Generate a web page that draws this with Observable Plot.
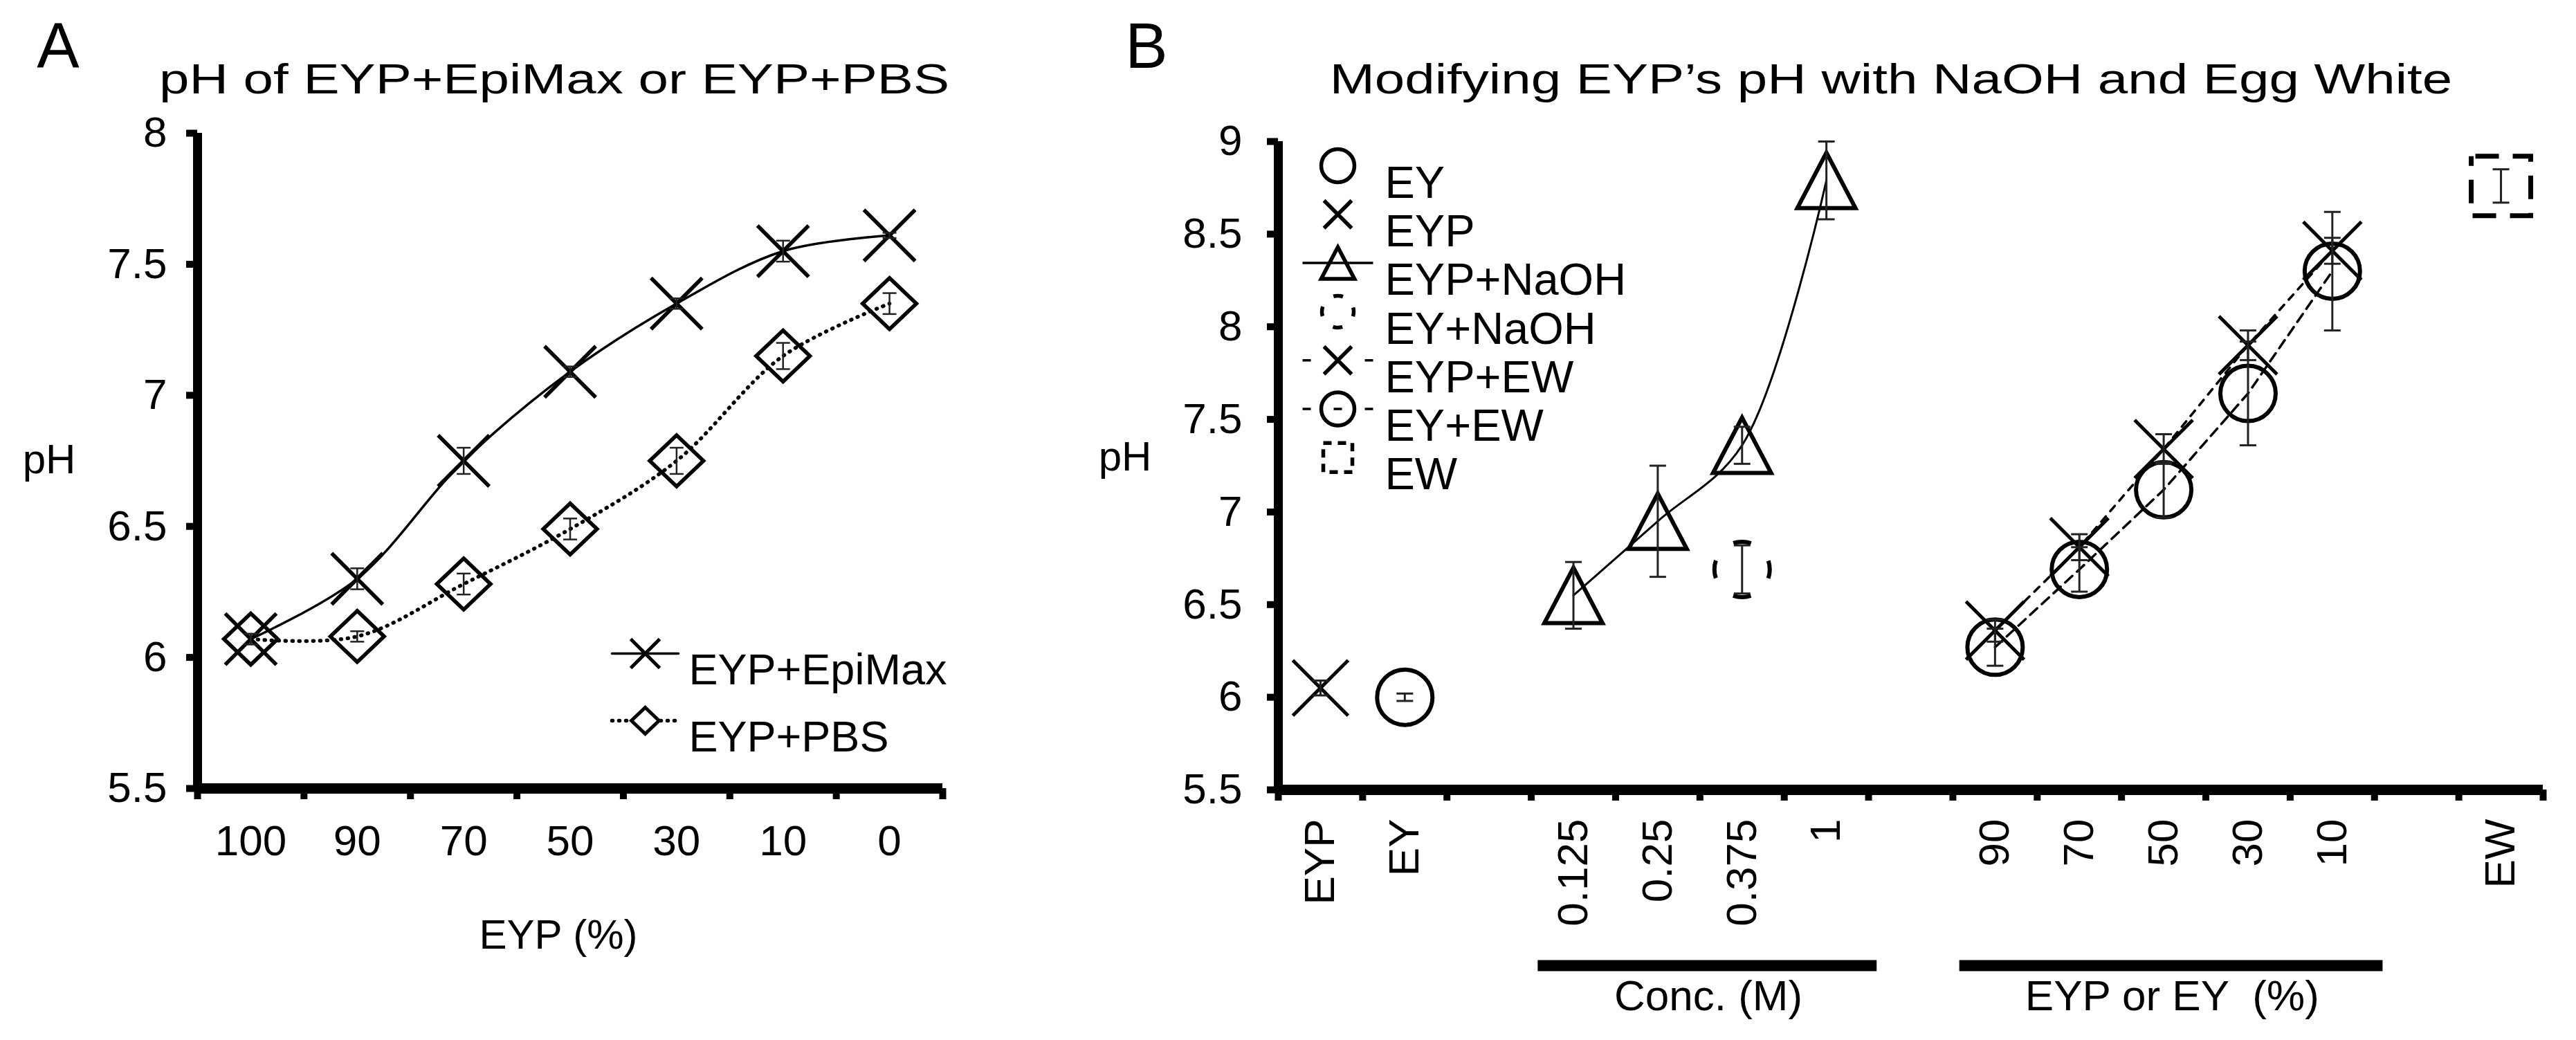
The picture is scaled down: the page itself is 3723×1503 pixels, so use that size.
<!DOCTYPE html>
<html>
<head>
<meta charset="utf-8">
<script src="https://cdn.jsdelivr.net/npm/d3@7"></script>
<script src="https://cdn.jsdelivr.net/npm/@observablehq/plot@0.6"></script>
<style>
  html, body { margin: 0; padding: 0; background: #fff; }
  #wrap { position: relative; width: 3723px; height: 1503px; overflow: hidden; background: #fff;
          font-family: "Liberation Sans", Arial, Helvetica, sans-serif; color: #000; }
  .lbl { position: absolute; white-space: nowrap; line-height: 1; transform: translate(-50%, -50%); }
  .ttl { position: absolute; white-space: nowrap; line-height: 1; font-size: 62px; transform: translate(-50%, -50%) scaleX(1.26); }
  .panel { position: absolute; top: 0; }
</style>
</head>
<body>
<div id="wrap">
  <div class="lbl" style="left:84px; top:66px; font-size:92px;">A</div>
  <div class="ttl" style="left:801px; top:114px;">pH of EYP+EpiMax or EYP+PBS</div>
  <div class="lbl" style="left:1657px; top:66px; font-size:92px;">B</div>
  <div class="ttl" style="left:2733px; top:114px;">Modifying EYP’s pH with NaOH and Egg White</div>
  <div class="lbl" style="left:71px; top:664px; font-size:60px;">pH</div>
  <div class="lbl" style="left:1626px; top:660px; font-size:60px;">pH</div>
  <div class="lbl" style="left:807px; top:1351px; font-size:60px;">EYP (%)</div>
  <div id="panelA" class="panel" style="left:0px;"></div>
  <div id="panelB" class="panel" style="left:1420px;"></div>
</div>
<script>
// ---------------- Panel A data ----------------
const catsA = ["100", "90", "70", "50", "30", "10", "0"];
const epiMax    = [6.07, 6.30, 6.75, 7.09, 7.35, 7.55, 7.61];
const epiMaxErr = [0.02, 0.04, 0.05, 0.02, 0.02, 0.04, 0.01];
const pbs       = [6.07, 6.08, 6.28, 6.49, 6.75, 7.15, 7.35];
const pbsErr    = [0.02, 0.02, 0.04, 0.04, 0.05, 0.05, 0.04];
const yTicksA = [5.5, 6, 6.5, 7, 7.5, 8];
const legendA = ["EYP+EpiMax", "EYP+PBS"];

// ---------------- Panel B data ----------------
const catsB = ["EYP", "EY", "", "0.125", "0.25", "0.375", "1", "", "90", "70", "50", "30", "10", "", "EW"];
const yTicksB = [5.5, 6, 6.5, 7, 7.5, 8, 8.5, 9];
const eypCats = ["EYP"], eypVal = [6.05], eypErr = [0.04];
const eyCats = ["EY"], eyVal = [6.00], eyErr = [0.02];
const naohCats = ["0.125", "0.25", "0.375", "1"];
const eypNaoh    = [6.55, 6.95, 7.36, 8.79];
const eypNaohErr = [0.18, 0.30, 0.10, 0.21];
const eyNaohCats = ["0.375"], eyNaoh = [6.69], eyNaohErr = [0.13];
const ewMixCats = ["90", "70", "50", "30", "10"];
const eypEw    = [6.36, 6.81, 7.34, 7.90, 8.41];
const eypEwErr = [0.06, 0.07, 0.08, 0.08, 0.07];
const eyEw     = [6.27, 6.69, 7.12, 7.64, 8.30];
const eyEwErr  = [0.10, 0.12, 0.15, 0.28, 0.32];
const ewCats = ["EW"], ewVal = [8.76], ewErr = [0.09];
const groupLabels = ["Conc. (M)", "EYP or EY  (%)"];
const groupFrom = ["0.125", "90"];
const groupTo = ["1", "10"];
const legendB = ["EY", "EYP", "EYP+NaOH", "EY+NaOH", "EYP+EW", "EY+EW", "EW"];

// ---------------- symbols ----------------
const rOf = s => Math.sqrt(s / Math.PI);
const symX = {draw(c, s) { const r = rOf(s); c.moveTo(-r, -r); c.lineTo(r, r); c.moveTo(r, -r); c.lineTo(-r, r); }};
const symDiamond = {draw(c, s) { const r = rOf(s); c.moveTo(0, -r); c.lineTo(r * 1.05, 0); c.lineTo(0, r); c.lineTo(-r * 1.05, 0); c.closePath(); }};
const symTri = {draw(c, s) { const r = rOf(s); c.moveTo(0, -r); c.lineTo(r * 1.05, r); c.lineTo(-r * 1.05, r); c.closePath(); }};
const symSquare = {draw(c, s) { const r = rOf(s); c.moveTo(-r, -r); c.lineTo(r, -r); c.lineTo(r, r); c.lineTo(-r, r); c.closePath(); }};
const symCircle = {draw(c, s) { const r = rOf(s); c.moveTo(r, 0); c.arc(0, 0, r, 0, 2 * Math.PI); c.closePath(); }};
const symHLine = {draw(c, s) { const r = rOf(s); c.moveTo(-r, 0); c.lineTo(r, 0); }};

const FONT = "'Liberation Sans', Arial, Helvetica, sans-serif";
const INK = "#000";

function errorBars(rows, w = 3, cap = 12) {
  return [
    Plot.ruleX(rows, {x: "x", y1: "lo", y2: "hi", stroke: "#222", strokeWidth: w}),
    Plot.dot(rows, {x: "x", y: "lo", symbol: symHLine, r: cap, stroke: "#222", strokeWidth: w}),
    Plot.dot(rows, {x: "x", y: "hi", symbol: symHLine, r: cap, stroke: "#222", strokeWidth: w})
  ];
}

// ---------------- Panel A ----------------
const rowsA = (vals, errs) => catsA.map((c, i) => ({c, x: i + 0.5, y: vals[i], lo: vals[i] - errs[i], hi: vals[i] + errs[i]}));
const dEpi = rowsA(epiMax, epiMaxErr);
const dPbs = rowsA(pbs, pbsErr);

const legAMarks = [];
const legASym = [symX, symDiamond];
const legADash = [null, "1,9"];
const legALineW = [3.5, 5.5];
legendA.forEach((label, i) => {
  const dy = 752 + i * 97;
  legAMarks.push(
    Plot.dot([label], {frameAnchor: "top-left", dx: 647, dy, symbol: symHLine, r: 48, stroke: INK, strokeWidth: legALineW[i], strokeDasharray: legADash[i], strokeLinecap: "round"}),
    Plot.dot([label], {frameAnchor: "top-left", dx: 647, dy, symbol: legASym[i], r: i === 0 ? 21 : 19, stroke: INK, strokeWidth: 5, fill: i === 0 ? "none" : "white"}),
    Plot.text([label], {frameAnchor: "top-left", dx: 710, dy, text: d => d, textAnchor: "start", fontSize: 63, fill: INK})
  );
});

const plotA = Plot.plot({
  width: 1420, height: 1503,
  marginLeft: 285, marginRight: 58, marginTop: 192, marginBottom: 364,
  style: {fontFamily: FONT, fontSize: "62px", color: INK, background: "transparent", overflow: "visible"},
  x: {domain: [0, catsA.length], label: null},
  y: {domain: [yTicksA[0], yTicksA[yTicksA.length - 1]], label: null},
  marks: [
    Plot.line(dEpi, {x: "x", y: "y", curve: "catmull-rom", stroke: INK, strokeWidth: 3.5}),
    Plot.line(dPbs, {x: "x", y: "y", curve: "catmull-rom", stroke: INK, strokeWidth: 5.5, strokeDasharray: "1,9", strokeLinecap: "round"}),
    Plot.dot(dPbs, {x: "x", y: "y", symbol: symDiamond, r: 37, stroke: INK, strokeWidth: 5.5, fill: "none"}),
    Plot.dot(dEpi, {x: "x", y: "y", symbol: symX, r: 37, stroke: INK, strokeWidth: 5.5, fill: "none"}),
    ...errorBars(dEpi, 2.5, 10),
    ...errorBars(dPbs, 2.5, 10),
    Plot.axisY({ticks: yTicksA, tickSize: 16, tickPadding: 28, strokeWidth: 10, fontSize: 62, tickFormat: d => String(d), label: null}),
    Plot.axisX({ticks: d3.range(catsA.length + 1), tickSize: 16, strokeWidth: 10, tickFormat: () => "", label: null}),
    Plot.axisX({ticks: catsA.map((c, i) => i + 0.5), tickSize: 0, tickPadding: 52, fontSize: 62, tickFormat: d => catsA[Math.floor(d)], label: null}),
    Plot.ruleX([0], {stroke: INK, strokeWidth: 13}),
    Plot.ruleY([yTicksA[0]], {stroke: INK, strokeWidth: 15}),
    ...legAMarks
  ]
});
document.getElementById("panelA").appendChild(plotA);

// ---------------- Panel B ----------------
const posB = c => catsB.indexOf(c) + 0.5;
const rowsB = (cats, vals, errs) => cats.map((c, i) => ({c, x: posB(c), y: vals[i], lo: vals[i] - errs[i], hi: vals[i] + errs[i]}));
const dEyp = rowsB(eypCats, eypVal, eypErr);
const dEy = rowsB(eyCats, eyVal, eyErr);
const dNaoh = rowsB(naohCats, eypNaoh, eypNaohErr);
const dEyNaoh = rowsB(eyNaohCats, eyNaoh, eyNaohErr);
const dEypEw = rowsB(ewMixCats, eypEw, eypEwErr);
const dEyEw = rowsB(ewMixCats, eyEw, eyEwErr);
const dEw = rowsB(ewCats, ewVal, ewErr);
const groups = groupLabels.map((g, i) => ({label: g, x1: catsB.indexOf(groupFrom[i]), x2: catsB.indexOf(groupTo[i]) + 1}));

const legBSym = [symCircle, symX, symTri, symCircle, symX, symCircle, symSquare];
const legBR = [24, 20, 23, 23, 20, 24, 21];
const legBLine = [null, null, null, null, "12,78", "12,33,12,33,12", null];
const legBLineSolid = [false, false, true, false, false, false, false];
const legBMarkDash = [null, null, null, "14,22.1", null, null, "12,9"];
const legBMarkOff = [0, 0, 0, 7, 0, 0, 0];
const legBMarks = [];
legendB.forEach((label, i) => {
  const dy = 35 + i * 70.3;
  if (legBLine[i] || legBLineSolid[i]) {
    legBMarks.push(Plot.dot([label], {frameAnchor: "top-left", dx: 86, dy, symbol: symHLine, r: 51, stroke: INK, strokeWidth: 3.5, strokeDasharray: legBLine[i]}));
  }
  legBMarks.push(
    Plot.dot([label], {frameAnchor: "top-left", dx: 86, dy, symbol: legBSym[i], r: legBR[i], stroke: INK, strokeWidth: 5.5, fill: "none", strokeDasharray: legBMarkDash[i], strokeDashoffset: legBMarkOff[i]}),
    Plot.text([label], {frameAnchor: "top-left", dx: 154, dy, text: d => d, textAnchor: "start", fontSize: 65, fill: INK})
  );
});

const plotB = Plot.plot({
  width: 2303, height: 1503,
  marginLeft: 427, marginRight: 48, marginTop: 204, marginBottom: 362,
  style: {fontFamily: FONT, fontSize: "62px", color: INK, background: "transparent", overflow: "visible"},
  x: {domain: [0, catsB.length], label: null},
  y: {domain: [yTicksB[0], yTicksB[yTicksB.length - 1]], label: null},
  marks: [
    Plot.line(dNaoh, {x: "x", y: "y", curve: "catmull-rom", stroke: INK, strokeWidth: 3}),
    Plot.line(dEypEw, {x: "x", y: "y", stroke: INK, strokeWidth: 3.5, strokeDasharray: "10,10"}),
    Plot.line(dEyEw, {x: "x", y: "y", stroke: INK, strokeWidth: 3.5, strokeDasharray: "14,9"}),
    Plot.dot(dEyp, {x: "x", y: "y", symbol: symX, r: 40, stroke: INK, strokeWidth: 5, fill: "none"}),
    Plot.dot(dEy, {x: "x", y: "y", symbol: symCircle, r: 40, stroke: INK, strokeWidth: 6, fill: "none"}),
    Plot.dot(dNaoh, {x: "x", y: "y", symbol: symTri, r: 40, stroke: INK, strokeWidth: 6, fill: "none"}),
    Plot.dot(dEyNaoh, {x: "x", y: "y", symbol: symCircle, r: 40, stroke: INK, strokeWidth: 6, fill: "none", strokeDasharray: "26,36.8", strokeDashoffset: 13}),
    Plot.dot(dEyEw, {x: "x", y: "y", symbol: symCircle, r: 40, stroke: INK, strokeWidth: 6, fill: "none"}),
    Plot.dot(dEypEw, {x: "x", y: "y", symbol: symX, r: 42, stroke: INK, strokeWidth: 5, fill: "none"}),
    Plot.dot(dEw, {x: "x", y: "y", symbol: symSquare, r: 43, stroke: INK, strokeWidth: 7, fill: "none", strokeDasharray: "34,20", strokeDashoffset: -6}),
    ...errorBars(dEyp), ...errorBars(dEy), ...errorBars(dNaoh), ...errorBars(dEyNaoh),
    ...errorBars(dEypEw), ...errorBars(dEyEw), ...errorBars(dEw),
    Plot.axisY({ticks: yTicksB, tickSize: 16, tickPadding: 36, strokeWidth: 10, fontSize: 62, tickFormat: d => String(d), label: null}),
    Plot.axisX({ticks: d3.range(catsB.length + 1), tickSize: 16, strokeWidth: 10, tickFormat: () => "", label: null}),
    Plot.axisX({ticks: catsB.map((c, i) => c ? i + 0.5 : null).filter(d => d != null), tickSize: 0, tickPadding: 42, tickRotate: -90, fontSize: 62, tickFormat: d => catsB[Math.floor(d)], label: null}),
    Plot.ruleX([0], {stroke: INK, strokeWidth: 13}),
    Plot.ruleY([yTicksB[0]], {stroke: INK, strokeWidth: 15}),
    Plot.ruleY(groups, {x1: d => d.x1 + 0.08, x2: d => d.x2 + 0.1, y: () => yTicksB[0], dy: 254, stroke: INK, strokeWidth: 16}),
    Plot.text(groups, {x: d => (d.x1 + d.x2) / 2 + 0.1, frameAnchor: "bottom", dy: 318, text: "label", fontSize: 62, fill: INK}),
    ...legBMarks
  ]
});
document.getElementById("panelB").appendChild(plotB);
</script>
</body>
</html>
